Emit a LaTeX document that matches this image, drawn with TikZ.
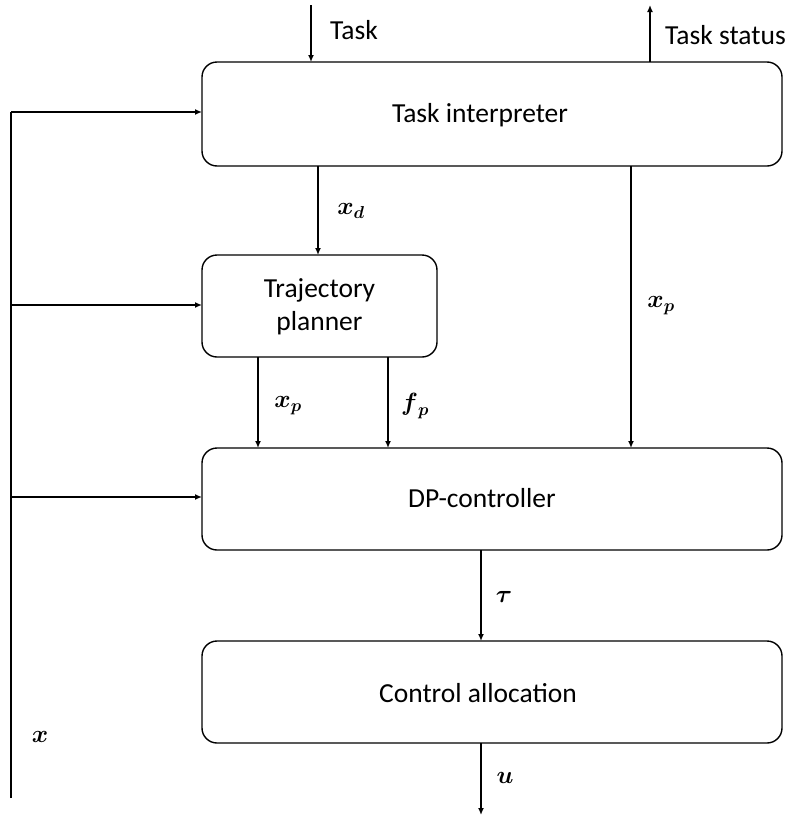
\documentclass[tikz,border=0pt]{standalone}
\usepackage{amsmath}
\usepackage{fontspec}
\setmainfont{Carlito}
\usetikzlibrary{arrows.meta}
\begin{document}
\begin{tikzpicture}[x=1pt,y=-1pt,
  blk/.style={draw, line width=1.4pt, rounded corners=15pt},
  conn/.style={line width=1.4pt, -{Latex[length=7pt,width=6pt]}},
  lbl/.style={font=\fontsize{27.5}{32}\selectfont, inner sep=0pt},
  mlbl/.style={font=\fontsize{27}{30}\selectfont, inner sep=0pt}]
\useasboundingbox (0,0) rectangle (789,817);
% boxes
\draw[blk] (202,62) rectangle (782,166);
\node[lbl] (ti) at (480,115) {Task interpreter};
\coordinate (tiw) at (202,112);
\draw[blk] (202,255) rectangle (437,357);
\node[lbl, align=center, font=\fontsize{27.5}{33}\selectfont] (tp) at (319.5,307) {Trajectory\\planner};
\draw[blk] (202,448) rectangle (782,550);
\node[lbl] (dp) at (482,498) {DP-controller};
\draw[blk] (202,641) rectangle (782,743);
\node[lbl] (ca) at (478,693) {Control allocation};
% named coordinates
\coordinate (tin) at (311,5);
\coordinate (tie) at (311,62);
\coordinate (tso) at (650,62);
\coordinate (tse) at (650,5);
\coordinate (xtop) at (11,112);
\coordinate (xbot) at (11,798);
\coordinate (xmid1) at (11,305);
\coordinate (xmid2) at (11,497);
\coordinate (tpw) at (202,305);
\coordinate (dpw) at (202,497);
\coordinate (xd1) at (318,166);
\coordinate (xd2) at (318,255);
\coordinate (xp1) at (631,166);
\coordinate (xp2) at (631,448);
\coordinate (xq1) at (258,357);
\coordinate (xq2) at (258,448);
\coordinate (fp1) at (388,357);
\coordinate (fp2) at (388,448);
\coordinate (ta1) at (481,550);
\coordinate (ta2) at (481,641);
\coordinate (u1) at (481,743);
\coordinate (u2) at (481,815);
% connectors
\draw[conn] (tin) -- (tie);
\node[lbl, anchor=west] (tasklbl) at (330,30) {Task};
\draw[conn] (tso) -- (tse);
\node[lbl, anchor=west] (tslbl) at (665,35) {Task status};
\draw[line width=1.4pt] (xbot) -- (xtop);
\draw[conn] (xtop) -- (tiw);
\draw[conn] (xmid1) -- (tpw);
\draw[conn] (xmid2) -- (dpw);
\node[mlbl] (xlbl) at (40,737) {$\boldsymbol{x}$};
\draw[conn] (xd1) -- (xd2);
\node[mlbl] (xdlbl) at (351,211) {$\boldsymbol{x}_{\boldsymbol{d}}$};
\draw[conn] (xp1) -- (xp2);
\node[mlbl] (xplbl) at (661,306) {$\boldsymbol{x}_{\boldsymbol{p}}$};
\draw[conn] (xq1) -- (xq2);
\node[mlbl] (xqlbl) at (288,406) {$\boldsymbol{x}_{\boldsymbol{p}}$};
\draw[conn] (fp1) -- (fp2);
\node[mlbl] (fplbl) at (415,406) {$\boldsymbol{f}_{\boldsymbol{p}}$};
\draw[conn] (ta1) -- (ta2);
\node[mlbl] (talbl) at (504,597) {$\boldsymbol{\tau}$};
\draw[conn] (u1) -- (u2);
\node[mlbl] (ulbl) at (505,778) {$\boldsymbol{u}$};
\end{tikzpicture}
\end{document}
